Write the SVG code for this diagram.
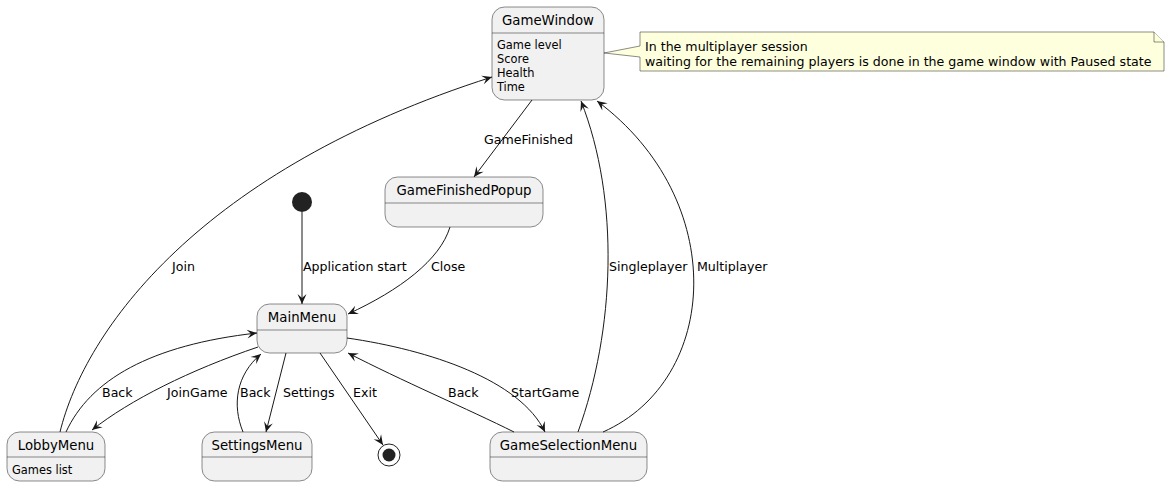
<svg xmlns="http://www.w3.org/2000/svg" width="1170" height="486" viewBox="0 0 1170 486">
<defs>
<style>
.node{fill:#F1F1F1;stroke:#181818;stroke-width:0.5}
.sep{stroke:#181818;stroke-width:0.5}
.title{font-family:"DejaVu Sans",Verdana,sans-serif;font-size:13.3px;fill:#000;text-anchor:middle}
.attr{font-family:"DejaVu Sans",Verdana,sans-serif;font-size:11.4px;fill:#000}
.lbl{font-family:"DejaVu Sans",Verdana,sans-serif;font-size:12.6px;fill:#000}
.edge{fill:none;stroke:#181818;stroke-width:1}
.note{fill:#FEFFDD;stroke:#181818;stroke-width:0.5}
</style>
<marker id="arr" viewBox="-11 -6 12 12" refX="0" refY="0" markerWidth="12" markerHeight="12" orient="auto" markerUnits="userSpaceOnUse">
<path d="M0,0 L-10,-4.5 L-6,0 L-10,4.5 Z" fill="#181818"/>
</marker>
</defs>
<rect width="1170" height="486" fill="#FFFFFF"/>

<g id="GameWindow">
<rect class="node" x="492" y="7" width="112" height="93" rx="12.5" ry="12.5"/>
<line class="sep" x1="492" y1="33" x2="604" y2="33"/>
<text class="title" x="548" y="25">GameWindow</text>
<text class="attr" x="497" y="49">Game level</text>
<text class="attr" x="497" y="63">Score</text>
<text class="attr" x="497" y="77">Health</text>
<text class="attr" x="497" y="91">Time</text>
</g>

<g id="note">
<path class="note" d="M640,32 L1154,32 L1164,42 L1164,71 L640,71 L640,57 L604,53 L640,46 Z"/>
<path class="note" d="M1154,32 L1154,42 L1164,42" fill="none"/>
<text class="lbl" x="645" y="51">In the multiplayer session</text>
<text class="lbl" x="645" y="66">waiting for the remaining players is done in the game window with Paused state</text>
</g>

<g id="GameFinishedPopup">
<rect class="node" x="385" y="177" width="158" height="50" rx="12.5" ry="12.5"/>
<line class="sep" x1="385" y1="203" x2="543" y2="203"/>
<text class="title" x="464" y="195">GameFinishedPopup</text>
</g>

<g id="start">
<circle cx="302" cy="202" r="10" fill="#222222"/>
</g>

<g id="MainMenu">
<rect class="node" x="257" y="304" width="90" height="49" rx="12.5" ry="12.5"/>
<line class="sep" x1="257" y1="330" x2="347" y2="330"/>
<text class="title" x="302" y="322">MainMenu</text>
</g>

<g id="LobbyMenu">
<rect class="node" x="7" y="432" width="98" height="49" rx="12.5" ry="12.5"/>
<line class="sep" x1="7" y1="457" x2="105" y2="457"/>
<text class="title" x="56" y="450">LobbyMenu</text>
<text class="attr" x="12" y="474">Games list</text>
</g>

<g id="SettingsMenu">
<rect class="node" x="202" y="432" width="110" height="49" rx="12.5" ry="12.5"/>
<line class="sep" x1="202" y1="457" x2="312" y2="457"/>
<text class="title" x="257" y="450">SettingsMenu</text>
</g>

<g id="end">
<circle cx="389" cy="455" r="11" fill="none" stroke="#222222" stroke-width="1"/>
<circle cx="389" cy="455" r="6.5" fill="#222222"/>
</g>

<g id="GameSelectionMenu">
<rect class="node" x="490" y="432" width="157" height="49" rx="12.5" ry="12.5"/>
<line class="sep" x1="490" y1="457" x2="647" y2="457"/>
<text class="title" x="568.5" y="450">GameSelectionMenu</text>
</g>

<g id="connectors">
<path class="edge" marker-end="url(#arr)" d="M302,212 L302,304"/>
<text class="lbl" x="303" y="271">Application start</text>

<path class="edge" marker-end="url(#arr)" d="M532,100 L474,177"/>
<text class="lbl" x="484" y="144">GameFinished</text>

<path class="edge" marker-end="url(#arr)" d="M450,227 C440,260 400,290 348,314"/>
<text class="lbl" x="431" y="271">Close</text>

<path class="edge" marker-end="url(#arr)" d="M60,432 C85,330 200,170 492,77"/>
<text class="lbl" x="172" y="271">Join</text>

<path class="edge" marker-end="url(#arr)" d="M258,347 C190,370 130,400 92,430"/>
<text class="lbl" x="167" y="397">JoinGame</text>

<path class="edge" marker-end="url(#arr)" d="M66,432 C90,380 150,345 257,333"/>
<text class="lbl" x="102" y="397">Back</text>

<path class="edge" marker-end="url(#arr)" d="M286,353 L266,432"/>
<text class="lbl" x="283" y="397">Settings</text>

<path class="edge" marker-end="url(#arr)" d="M243,432 C232,405 236,375 261,354"/>
<text class="lbl" x="240" y="397">Back</text>

<path class="edge" marker-end="url(#arr)" d="M320,353 L383,445"/>
<text class="lbl" x="353" y="397">Exit</text>

<path class="edge" marker-end="url(#arr)" d="M347,338 C430,350 520,380 545,432"/>
<text class="lbl" x="511" y="397">StartGame</text>

<path class="edge" marker-end="url(#arr)" d="M514,432 C470,410 400,380 348,353"/>
<text class="lbl" x="448" y="397">Back</text>

<path class="edge" marker-end="url(#arr)" d="M578,432 C615,330 620,200 581,101"/>
<text class="lbl" x="609" y="271">Singleplayer</text>

<path class="edge" marker-end="url(#arr)" d="M603,432 C720,380 730,200 597,101"/>
<text class="lbl" x="697" y="271">Multiplayer</text>
</g>
</svg>
